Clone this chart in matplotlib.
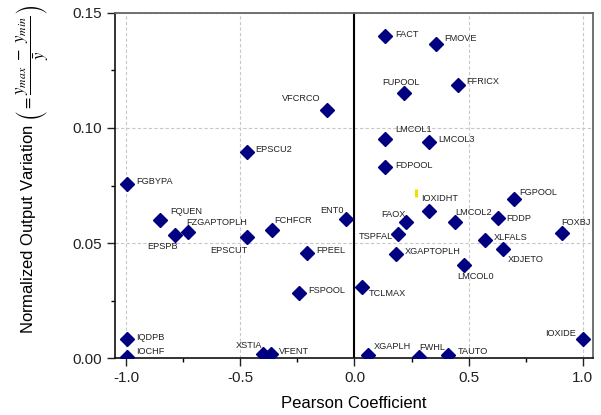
import numpy as np
import matplotlib
matplotlib.use('Agg')
import matplotlib.pyplot as plt
from matplotlib.ticker import MultipleLocator

plt.rcParams['font.family'] = ['Liberation Sans', 'DejaVu Sans']
plt.rcParams['mathtext.fontset'] = 'stix'
plt.rcParams['axes.unicode_minus'] = False

# 参数名称 / Pearson 系数 / 归一化输出变化
names = ['FACT', 'FMOVE', 'FUPOOL', 'FFRICX', 'VFCRCO', 'LMCOL1', 'LMCOL3', 'FDPOOL',
         'EPSCU2', 'FGBYPA', 'IOXIDHT', 'FGPOOL', 'ENT0', 'FAOX', 'LMCOL2', 'FDDP',
         'FOXBJ', 'TSPFAL', 'XLFALS', 'XDJETO', 'XGAPTOPLH', 'LMCOL0', 'TCLMAX',
         'FCHFCR', 'FQUEN', 'FZGAPTOPLH', 'EPSPB', 'EPSCUT', 'FPEEL', 'FSPOOL',
         'IQDPB', 'IOCHF', 'XSTIA', 'VFENT', 'XGAPLH', 'FWHL', 'TAUTO', 'IOXIDE']
pearson = [0.135, 0.358, 0.218, 0.454, -0.122, 0.135, 0.328, 0.135,
           -0.472, -0.996, 0.325, 0.699, -0.039, 0.226, 0.441, 0.630,
           0.910, 0.189, 0.572, 0.649, 0.183, 0.482, 0.034,
           -0.360, -0.850, -0.728, -0.786, -0.472, -0.207, -0.241,
           -0.996, -0.996, -0.399, -0.364, 0.060, 0.281, 0.412, 1.000]
variation = [0.1400, 0.1365, 0.1150, 0.1187, 0.1080, 0.0952, 0.0939, 0.0830,
             0.0896, 0.0757, 0.0640, 0.0690, 0.0603, 0.0590, 0.0590, 0.0607,
             0.0542, 0.0538, 0.0513, 0.0473, 0.0451, 0.0404, 0.0307,
             0.0557, 0.0600, 0.0546, 0.0535, 0.0525, 0.0458, 0.0281,
             0.0083, 0.0003, 0.0017, 0.0020, 0.0013, 0.0006, 0.0013, 0.0081]

# 标签偏移 (像素, 水平对齐)
offsets = {
    'FACT': (10, 1, 'left'), 'FMOVE': (8, 5, 'left'), 'FUPOOL': (-22, 11, 'left'),
    'FFRICX': (8, 3, 'left'), 'VFCRCO': (-6, 11, 'right'), 'LMCOL1': (10, 10, 'left'),
    'LMCOL3': (9, 2, 'left'), 'FDPOOL': (10, 2, 'left'), 'EPSCU2': (9, 2, 'left'),
    'FGBYPA': (9, 2, 'left'), 'IOXIDHT': (-7, 12, 'left'), 'FGPOOL': (5, 7, 'left'),
    'ENT0': (-2, 9, 'right'), 'FAOX': (0, 8, 'right'), 'LMCOL2': (0, 10, 'left'),
    'FDDP': (8, 0, 'left'), 'FOXBJ': (-1, 11, 'left'), 'TSPFAL': (-5, -2, 'right'),
    'XLFALS': (9, 3, 'left'), 'XDJETO': (5, -10, 'left'), 'XGAPTOPLH': (9, 3, 'left'),
    'LMCOL0': (-7, -11, 'left'), 'TCLMAX': (7, -6, 'left'), 'FCHFCR': (2, 9, 'left'),
    'FQUEN': (10, 9, 'left'), 'FZGAPTOPLH': (-2, 10, 'left'), 'EPSPB': (3, -12, 'right'),
    'EPSCUT': (1, -13, 'right'), 'FPEEL': (9, 2, 'left'), 'FSPOOL': (9, 3, 'left'),
    'IQDPB': (9, 2, 'left'), 'IOCHF': (9, 6, 'left'), 'XSTIA': (-1, 9, 'right'),
    'VFENT': (8, 2, 'left'), 'XGAPLH': (6, 9, 'left'), 'FWHL': (1, 9, 'left'),
    'TAUTO': (9, 4, 'left'), 'IOXIDE': (-7, 6, 'right'),
}

# 图中的小黄色标记
mark_x = [0.271]
mark_y = [0.0716]

fig = plt.figure(figsize=(6.01, 4.15), dpi=100)
ax = fig.add_axes([0.191, 0.137, 0.796, 0.832])

ax.grid(True, which='major', linestyle=(0, (3, 2)), color='#c8c8c8', lw=0.8)
ax.set_axisbelow(True)
ax.axvline(0, color='black', lw=1.5, zorder=2)

ax.plot(pearson, variation, 'D', color='#000080', ms=7.3, zorder=3)
ax.plot(mark_x, mark_y, '|', color='#f0e000', ms=6, mew=2.2, zorder=3)

for n, x, y in zip(names, pearson, variation):
    dx, dy, ha = offsets[n]
    ax.annotate(n, (x, y), xytext=(dx, dy), textcoords='offset pixels',
                ha=ha, va='center', fontsize=6.6, color='#222222')

ax.set_xlim(-1.05, 1.046)
ax.set_ylim(0, 0.15)
ax.xaxis.set_major_locator(MultipleLocator(0.5))
ax.xaxis.set_minor_locator(MultipleLocator(0.25))
ax.yaxis.set_major_locator(MultipleLocator(0.05))
ax.yaxis.set_minor_locator(MultipleLocator(0.025))
ax.xaxis.set_major_formatter(plt.FormatStrFormatter('%.1f'))
ax.yaxis.set_major_formatter(plt.FormatStrFormatter('%.2f'))
ax.tick_params(which='major', direction='out', length=6, width=1, labelsize=11, colors='#222222')
ax.tick_params(which='minor', direction='out', length=3, width=1)

for s in ['left', 'bottom']:
    ax.spines[s].set_color('#111111')
    ax.spines[s].set_linewidth(1.2)
for s in ['top', 'right']:
    ax.spines[s].set_color('#666666')
    ax.spines[s].set_linewidth(1.3)

ax.set_xlabel('Pearson Coefficient', fontsize=12, labelpad=8)
ax.set_ylabel(r'Normalized Output Variation $\left(=\dfrac{y_{max}\ -\ y_{min}}{\bar{y}}\right)$',
              fontsize=12, labelpad=15)
ax.yaxis.label.set_y(0.545)

fig.savefig('out.png', dpi=100)
